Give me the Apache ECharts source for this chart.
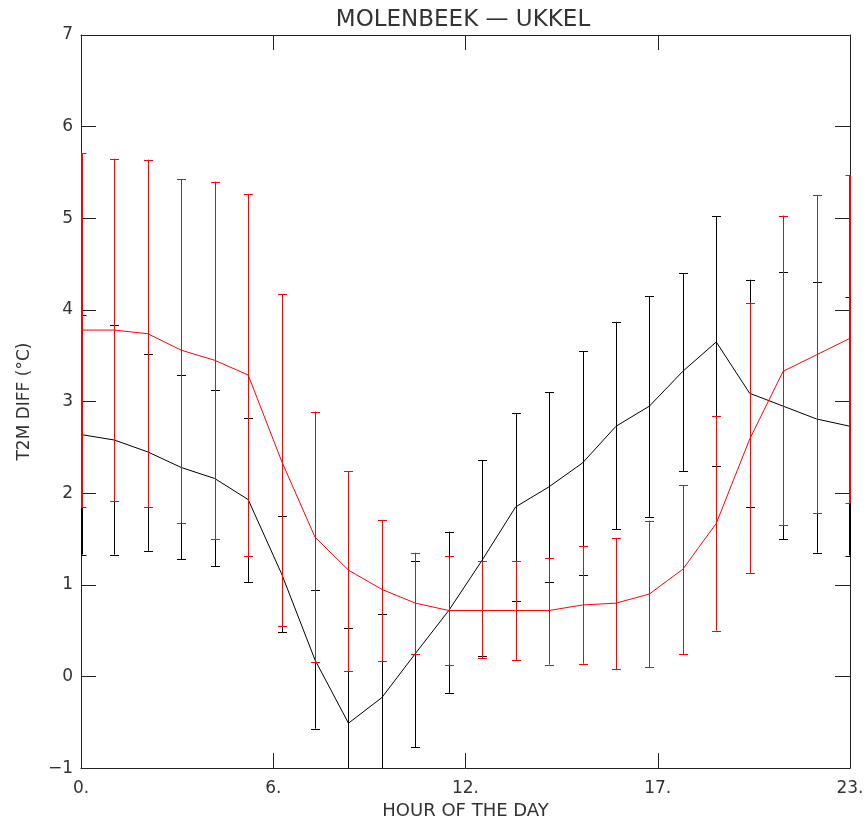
<!DOCTYPE html>
<html>
<head>
<meta charset="utf-8">
<script src="https://cdn.jsdelivr.net/npm/echarts@6/dist/echarts.min.js"></script>
<style>
html,body{margin:0;padding:0;background:#fff;}
#chart{width:867px;height:825px;}
</style>
</head>
<body>
<div id="chart"></div>
<script>
// ---- data ----
const hours = [0,1,2,3,4,5,6,7,8,9,10,11,12,13,14,15,16,17,18,19,20,21,22,23];

const blackMean  = [2.64,2.58,2.45,2.28,2.16,1.93,1.12,0.18,-0.51,-0.23,0.25,0.72,1.27,1.85,2.07,2.33,2.73,2.95,3.33,3.65,3.09,2.95,2.81,2.73];
const blackUpper = [3.94,3.83,3.52,3.29,3.13,2.82,1.75,0.94,0.53,0.68,1.26,1.58,2.36,2.87,3.10,3.55,3.87,4.15,4.40,5.02,4.33,4.41,4.30,4.14];
const blackLower = [1.33,1.33,1.37,1.28,1.20,1.03,0.48,-0.57,-1.55,-1.14,-0.77,-0.18,0.22,0.82,1.03,1.11,1.61,1.74,2.24,2.30,1.85,1.50,1.35,1.32];

const redMean  = [3.78,3.78,3.74,3.56,3.45,3.29,2.35,1.52,1.16,0.95,0.80,0.72,0.72,0.72,0.72,0.78,0.80,0.90,1.17,1.67,2.59,3.33,3.51,3.69];
const redUpper = [5.71,5.65,5.64,5.43,5.40,5.26,4.17,2.89,2.24,1.71,1.35,1.32,1.26,1.26,1.29,1.42,1.51,1.70,2.09,2.84,4.08,5.03,5.25,5.47];
const redLower = [1.85,1.91,1.85,1.68,1.50,1.31,0.55,0.155,0.06,0.17,0.25,0.13,0.20,0.18,0.13,0.14,0.08,0.10,0.24,0.50,1.13,1.65,1.78,1.89];

const xTickValues = [0, 5.75, 11.5, 17.25, 23];
const xTickLabels = ['0.', '6.', '12.', '17.', '23.'];
const yTickValues = [-1,0,1,2,3,4,5,6,7];
const yTickLabels = ['\u22121','0','1','2','3','4','5','6','7'];

const titleText = 'MOLENBEEK \u2014 UKKEL';
const xName = 'HOUR OF THE DAY';
const yName = 'T2M DIFF (\u00B0C)';

// ---- chart ----
const FONT = 'DejaVu Sans';
const TXT = '#333';
const AX = '#222';

function xLab(v){
  for (let i=0;i<xTickValues.length;i++) if (Math.abs(xTickValues[i]-v)<1e-6) return xTickLabels[i];
  return '';
}
function yLab(v){
  for (let i=0;i<yTickValues.length;i++) if (Math.abs(yTickValues[i]-v)<1e-6) return yTickLabels[i];
  return '';
}

function makeErr(color){
  return function(params, api){
    const x = api.value(0), lo = api.value(1), hi = api.value(2);
    const cs = params.coordSys;
    const top = cs.y, bottom = cs.y + cs.height, left = cs.x, right = cs.x + cs.width;
    const pLo = api.coord([x, lo]), pHi = api.coord([x, hi]);
    let px = Math.round(pLo[0]) + 0.5;
    let lw = 1;
    // bars lying on the frame: widen so they stay visible over the axis line
    if (px - left < 1) { px = left + 1; lw = 2; }
    if (right - px < 1) { px = right; lw = 2; }
    const cl = y => Math.max(top, Math.min(bottom, y));
    const children = [{
      type: 'line', shape: {x1: px, y1: cl(pHi[1]), x2: px, y2: cl(pLo[1])},
      style: {stroke: color, lineWidth: lw}
    }];
    [pLo[1], pHi[1]].forEach(function(y){
      if (y >= top - 0.5 && y <= bottom + 0.5) {
        const yy = Math.round(y) + 0.5;
        children.push({type: 'line',
          shape: {x1: Math.max(left, px - 4.5), y1: yy, x2: Math.min(right, px + 4.5), y2: yy},
          style: {stroke: color, lineWidth: 1}});
      }
    });
    return {type: 'group', children: children};
  };
}

const blackErrData = hours.map((h,i) => [h, blackLower[i], blackUpper[i]]);
const redErrData = hours.map((h,i) => [h, redLower[i], redUpper[i]]);

function axisCommon(){
  return {
    z: 0, zlevel: 0,
    axisLine: {show: true, onZero: false, lineStyle: {color: AX, width: 1}},
    splitLine: {show: false},
    axisTick: {show: true, inside: true, length: 15, lineStyle: {color: AX, width: 1}}
  };
}

const chart = echarts.init(document.getElementById('chart'), null, {renderer: 'canvas'});
chart.setOption({
  animation: false,
  backgroundColor: '#fff',
  title: {
    text: titleText, left: 458, top: 4, textAlign: 'center',
    textStyle: {fontFamily: FONT, fontSize: 23, fontWeight: 'normal', color: TXT}
  },
  grid: {left: 81, top: 35, right: 17, bottom: 53, containLabel: false},
  xAxis: [
    Object.assign(axisCommon(), {
      type: 'value', min: 0, max: 23, interval: 5.75, position: 'bottom',
      name: xName, nameLocation: 'middle', nameGap: 33,
      nameTextStyle: {fontFamily: FONT, fontSize: 18, color: TXT},
      axisLabel: {show: true, formatter: xLab, margin: 12, fontFamily: FONT, fontSize: 17, color: TXT,
                  showMinLabel: true, showMaxLabel: true}
    }),
    Object.assign(axisCommon(), {
      type: 'value', min: 0, max: 23, interval: 5.75, position: 'top',
      axisLabel: {show: false}
    })
  ],
  yAxis: [
    Object.assign(axisCommon(), {
      type: 'value', min: -1, max: 7, interval: 1, position: 'left',
      name: yName, nameLocation: 'middle', nameGap: 48, nameRotate: 90,
      nameTextStyle: {fontFamily: FONT, fontSize: 17, color: TXT},
      axisLabel: {show: true, formatter: yLab, margin: 8, fontFamily: FONT, fontSize: 17, color: TXT,
                  showMinLabel: true, showMaxLabel: true}
    }),
    Object.assign(axisCommon(), {
      type: 'value', min: -1, max: 7, interval: 1, position: 'right',
      axisLabel: {show: false}
    })
  ],
  series: [
    {
      type: 'custom', name: 'black err', xAxisIndex: 0, yAxisIndex: 0,
      renderItem: makeErr('#000'), data: blackErrData, clip: false, silent: true, zlevel: 1, z: 2
    },
    {
      type: 'line', name: 'black', xAxisIndex: 0, yAxisIndex: 0,
      data: hours.map((h,i) => [h, blackMean[i]]),
      symbol: 'none', clip: true, silent: true, zlevel: 1, z: 3,
      lineStyle: {color: '#000', width: 1}
    },
    {
      type: 'custom', name: 'red err', xAxisIndex: 0, yAxisIndex: 0,
      renderItem: makeErr('#ff0000'), data: redErrData, clip: false, silent: true, zlevel: 1, z: 4
    },
    {
      type: 'line', name: 'red', xAxisIndex: 0, yAxisIndex: 0,
      data: hours.map((h,i) => [h, redMean[i]]),
      symbol: 'none', clip: true, silent: true, zlevel: 1, z: 5,
      lineStyle: {color: '#ff0000', width: 1}
    }
  ]
});
</script>
</body>
</html>
